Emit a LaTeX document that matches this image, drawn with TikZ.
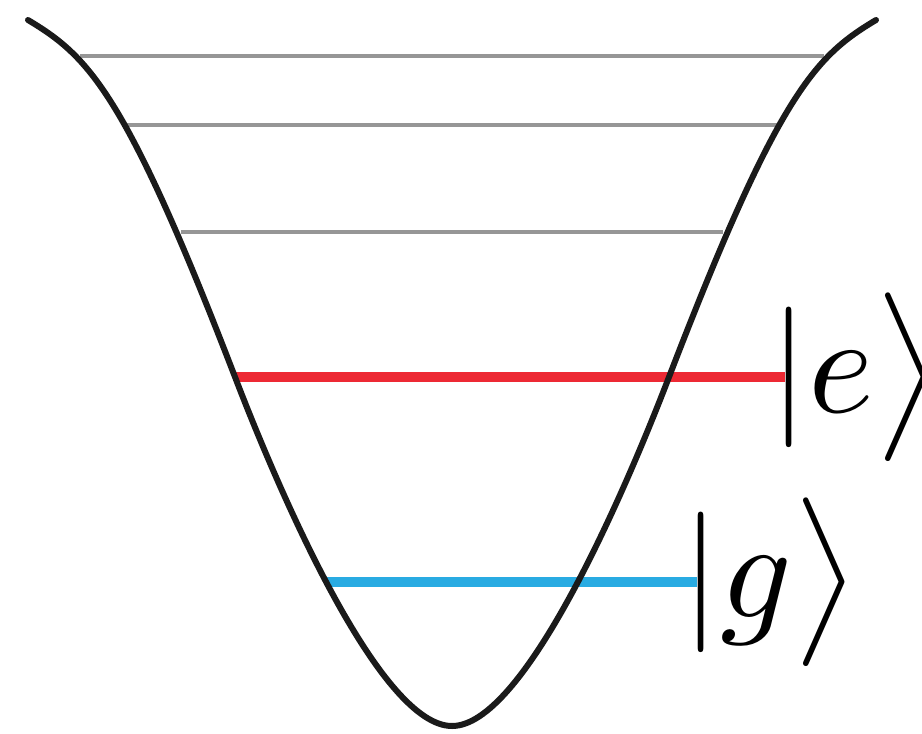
\documentclass[tikz,border=0pt]{standalone}
\usepackage{amsmath}
\usepackage{graphicx}
\usepackage{tikz}
\usetikzlibrary{positioning}
\definecolor{wellblack}{RGB}{26,26,26}
\definecolor{levelgray}{RGB}{150,150,150}
\definecolor{levelred}{RGB}{237,41,52}
\definecolor{levelblue}{RGB}{41,171,226}
\newcommand{\bigket}[1]{\scalebox{8}{$\mkern-2mu|#1\big\rangle$}}

\begin{document}
\begin{tikzpicture}[
    x=0.02cm, y=-0.02cm,
    well/.style={line width=0.12cm, draw=wellblack, line cap=round},
    graylevel/.style={line width=0.075cm, draw=levelgray},
    level/.style={line width=0.2cm},
    ketlabel/.style={inner sep=0pt, anchor=west}
]
\useasboundingbox (0,0) rectangle (922,733);

% Upper levels (gray)
\coordinate (u1L) at (80,56);  \coordinate (u1R) at (824,56);
\coordinate (u2L) at (126,125); \coordinate (u2R) at (778,125);
\coordinate (u3L) at (181,232); \coordinate (u3R) at (723,232);
\draw[graylevel] (u1L) -- (u1R);
\draw[graylevel] (u2L) -- (u2R);
\draw[graylevel] (u3L) -- (u3R);

% Excited and ground levels
\coordinate (eL) at (235,377);
\coordinate (gL) at (325,582);
\node[ketlabel] (eket) at (785,377) {\bigket{e}};
\node[ketlabel] (gket) at (697,582) {\bigket{g}};
\draw[level, levelred] (eL) -- (eket.west);
\draw[level, levelblue] (gL) -- (gket.west);

% Potential well
\draw[well] (28,20) .. controls (88,56) and (125,91) .. (235,377)
    .. controls (285,507) and (382,726) .. (452,726)
    .. controls (522,726) and (619,507) .. (669,377)
    .. controls (779,91) and (816,56) .. (876,20);

\end{tikzpicture}
\end{document}
